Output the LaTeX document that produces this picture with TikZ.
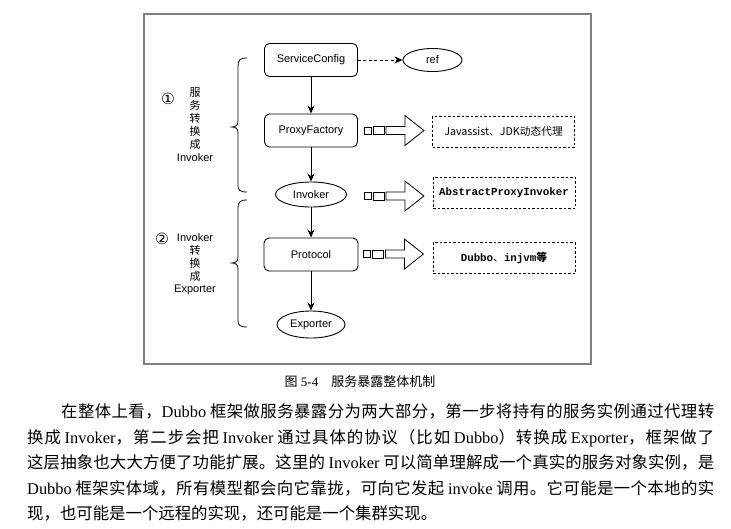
\documentclass[tikz,border=0pt]{standalone}
\usepackage{fontspec}
\setmainfont{Liberation Serif}
\newfontfamily\cjk{Noto Sans CJK SC}
\newfontfamily\arsf{Liberation Sans}
\newfontfamily\monof{Liberation Mono}
\newfontfamily\djv{DejaVu Sans}
\usetikzlibrary{arrows.meta,shapes.geometric,calc}
\newcommand\LT[1]{{\rmfamily #1}}
% stretchable glue between CJK characters (for justified lines)
\XeTeXinterchartokenstate=1
\newXeTeXintercharclass\cjkclass
\count255="4E00
\loop
  \XeTeXcharclass\count255=\cjkclass
  \ifnum\count255<"9FFF \advance\count255 by 1
\repeat
\XeTeXcharclass"FF0C=\cjkclass
\XeTeXcharclass"3002=\cjkclass
\XeTeXcharclass"3001=\cjkclass
\XeTeXcharclass"FF08=\cjkclass
\XeTeXcharclass"FF09=\cjkclass
\XeTeXinterchartoks\cjkclass\cjkclass={\hskip 0pt plus 1fil\relax}
\tikzset{
  box/.style={draw, rounded corners=5pt, minimum width=93pt, minimum height=33pt, inner sep=0pt,
    font=\arsf\fontsize{11}{12}\selectfont, line width=0.9pt},
  oval/.style={draw, ellipse, inner sep=0pt, font=\arsf\fontsize{11}{12}\selectfont, line width=0.9pt},
  note/.style={draw, dash pattern=on 2.5pt off 2pt, minimum width=142pt, minimum height=31pt,
    inner sep=0pt, line width=0.8pt},
  flow/.style={-{Stealth[length=8pt,width=7pt]}, line width=0.9pt},
  bracepath/.style={line width=0.8pt},
  bigarrow/.pic={
    \draw[line width=0.8pt] (0,-3.5) rectangle (7,3.5);
    \draw[line width=0.8pt] (9,-4) rectangle (20,4);
    \draw[line width=0.8pt] (22,-4) -- (41,-4) -- (41,-15) -- (60,0) -- (41,15) -- (41,4) -- (22,4) -- cycle;
  },
  para/.style={anchor=base west, inner sep=0pt, font=\cjk\fontsize{16.4}{20}\selectfont},
  circnum/.style={inner sep=0pt, font=\djv\fontsize{15.5}{16}\selectfont},
}
\begin{document}
\begin{tikzpicture}[x=1pt,y=-1pt]
\useasboundingbox (0,0) rectangle (731,528);
\fill[white] (0,0) rectangle (731,528);
% frame
\draw[black!50, line width=1.2pt] (144,14) rectangle (591,364);

% main chain
\node[box] (sc) at (311,60) {ServiceConfig};
\node[oval, minimum width=59pt, minimum height=23pt] (ref) at (432.5,60) {ref};
\node[box] (pf) at (311,130.5) {ProxyFactory};
\node[oval, minimum width=71pt, minimum height=25pt] (inv) at (311,194.5) {Invoker};
\node[box, minimum width=94pt] (pr) at (311,254.5) {Protocol};
\node[oval, minimum width=68pt, minimum height=27pt] (exp) at (311,324.5) {Exporter};

\draw[flow] (sc) -- (pf);
\draw[flow] (pf) -- (inv);
\draw[flow] (inv) -- (pr);
\draw[flow] (pr) -- (exp);
\draw[flow, dash pattern=on 3pt off 2.5pt] (sc) -- (ref);

% notes
\node[note] (jav) at (503.5,131.5) {\cjk\fontsize{10.7}{12}\selectfont Javassist、JDK动态代理};
\node[note] (api) at (504,192.5) {\monof\bfseries\fontsize{10.8}{12}\selectfont AbstractProxyInvoker};
\node[note] (dub) at (504,258) {{\monof\bfseries\fontsize{10.8}{12}\selectfont Dubbo}{\cjk\fontsize{10.8}{12}\selectfont 、}{\monof\bfseries\fontsize{10.8}{12}\selectfont injvm}{\cjk\bfseries\fontsize{10.8}{12}\selectfont 等}};

\pic at ([xshift=6pt]pf.east) {bigarrow};
\pic at ([xshift=17pt,yshift=-1.5pt]inv.east) {bigarrow};
\pic at ([xshift=5pt,yshift=0.5pt]pr.east) {bigarrow};

% braces
\draw[bracepath] (247,58) .. controls (240,58) and (238,60) .. (238,66) -- (238,121)
  .. controls (238,125) and (236,127) .. (232,127) .. controls (236,127) and (238,129) .. (238,133)
  -- (238,186) .. controls (238,190) and (240,192) .. (247,192);
\draw[bracepath] (247,200) .. controls (240,200) and (238,202) .. (238,208) -- (238,257)
  .. controls (238,261) and (236,263) .. (232,263) .. controls (236,263) and (238,265) .. (238,269)
  -- (238,321) .. controls (238,325) and (240,327) .. (247,327);

% side labels
\node[circnum] (n1) at (168,99) {①};
\node[align=center, inner sep=0pt, font=\cjk\fontsize{11}{13}\selectfont] (l1) at (195,124.5)
  {服\\务\\转\\换\\成\\{\arsf\fontsize{11}{13}\selectfont Invoker}};
\node[circnum] (n2) at (162,239) {②};
\node[align=center, inner sep=0pt, font=\cjk\fontsize{11}{12.75}\selectfont] (l2) at (195,264.5)
  {{\arsf\fontsize{11}{12.75}\selectfont Invoker}\\转\\换\\成\\{\arsf\fontsize{11}{12.75}\selectfont Exporter}};

% caption
\node[inner sep=0pt, font=\fontsize{13}{15}\selectfont] (cap) at (360,382)
  {{\cjk 图} 5-4\hspace{1em}{\cjk 服务暴露整体机制}};

% paragraph
\node[para] (p1) at (61,417.5) {\hbox to 653pt{在整体上看，\LT{Dubbo} 框架做服务暴露分为两大部分，第一步将持有的服务实例通过代理转}};
\node[para] (p2) at (27,443) {\hbox to 687pt{换成 \LT{Invoker}，第二步会把 \LT{Invoker} 通过具体的协议（比如 \LT{Dubbo}）转换成 \LT{Exporter}，框架做了}};
\node[para] (p3) at (27,468.5) {\hbox to 687pt{这层抽象也大大方便了功能扩展。这里的 \LT{Invoker} 可以简单理解成一个真实的服务对象实例，是}};
\node[para] (p4) at (27,494.5) {\hbox to 687pt{\LT{Dubbo} 框架实体域，所有模型都会向它靠拢，可向它发起 \LT{invoke} 调用。它可能是一个本地的实}};
\node[para] (p5) at (27,519.5) {现，也可能是一个远程的实现，还可能是一个集群实现。};
\end{tikzpicture}
\end{document}
